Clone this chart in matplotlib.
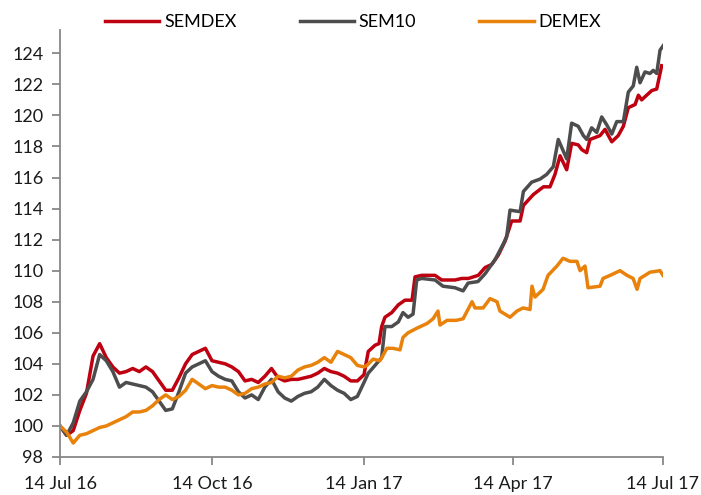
import matplotlib
matplotlib.use("Agg")
import matplotlib.pyplot as plt
import matplotlib.dates as mdates
import numpy as np
import pandas as pd

plt.rcParams['font.family'] = ['Lato', 'DejaVu Sans']

# ---- data (index = 100 on 14 Jul 16) ----
start = pd.Timestamp('2016-07-14')

# first half sampled every 4 days, second half at the turning points
grid_days = list(range(0, 188, 4))

semdex_days = grid_days + [186.6, 190.7, 193.1, 194.7, 196.7, 200.8, 204.8, 208.8, 213.1, 214.9,
                           218.9, 227, 231, 239.1, 243.2, 247.2, 253.2, 257.3, 261.3, 265.3,
                           269.4, 273.4, 278.5, 280.5, 286.5, 292.6, 296.6, 299.6, 302.7, 306.7,
                           309.7, 313.7, 315.8, 318.8, 320.8, 326.9, 329.9, 334, 337.9, 341,
                           344, 348.1, 350.1, 352.1, 355.1, 358.2, 361.2, 364.2]
semdex = [100.0, 99.4, 99.7, 101.0, 102.1, 104.5, 105.3, 104.4, 103.8, 103.4, 103.5, 103.7,
          103.5, 103.8, 103.5, 102.9, 102.3, 102.3, 103.1, 104.0, 104.6, 104.8, 105.0, 104.2,
          104.1, 104.0, 103.8, 103.5, 102.9, 103.0, 102.8, 103.2, 103.7, 103.1, 102.9, 103.0,
          103.0, 103.1, 103.2, 103.4, 103.7, 103.5, 103.4, 103.2, 102.9, 102.9, 103.3,
          104.8, 105.2, 105.3, 106.4, 107.0, 107.3, 107.8, 108.1, 108.1, 109.6,
          109.7, 109.7, 109.4, 109.4, 109.5, 109.5, 109.7, 110.2, 110.4, 111.0,
          111.9, 113.2, 113.2, 114.2, 114.9, 115.4, 115.4, 116.2, 117.4, 116.5,
          118.2, 118.1, 117.8, 117.6, 118.45, 118.7, 119.1, 118.3, 118.7, 119.3,
          120.5, 120.7, 121.3, 121.0, 121.3, 121.6, 121.7, 123.2]

sem10_days = grid_days + [186.6, 190.7, 194.7, 196.7, 200.8, 204.8, 207.6, 210.7, 213.7, 215.9,
                          218.9, 227, 231.8, 239.1, 244, 247, 253, 257.3, 263.3, 268.2,
                          270.4, 272.4, 278.5, 280.5, 285.5, 290.6, 294.6, 298.6, 301.6, 306.7,
                          309.7, 313.7, 316.8, 318.8, 321.8, 324.9, 327.9, 330.9, 334, 337,
                          341, 344, 347, 349.1, 351.1, 354.1, 357.1, 359.1, 361.2, 363.2, 365.2]
sem10 = [100.0, 99.4, 100.2, 101.6, 102.2, 103.0, 104.6, 104.2, 103.5, 102.5, 102.8, 102.7,
         102.6, 102.5, 102.2, 101.6, 101.0, 101.1, 102.2, 103.4, 103.8, 104.0, 104.2, 103.5,
         103.2, 103.0, 102.9, 102.2, 101.8, 102.0, 101.7, 102.5, 103.0, 102.2, 101.8, 101.6,
         101.9, 102.1, 102.2, 102.5, 103.0, 102.6, 102.3, 102.1, 101.7, 101.9, 102.8,
         103.4, 103.9, 104.4, 106.4, 106.4, 106.7, 107.3, 107.0, 107.2, 109.4,
         109.5, 109.4, 109.0, 108.9, 108.7, 109.2, 109.3, 109.8, 110.7, 111.7,
         112.2, 113.9, 113.8, 115.1, 115.7, 115.9, 116.2, 116.7, 118.45, 117.2,
         119.5, 119.3, 118.7, 118.45, 119.2, 118.9, 119.9, 119.4, 118.8, 119.6,
         119.6, 121.5, 121.9, 123.1, 122.1, 122.8, 122.7, 122.9, 122.7, 124.2, 124.5]

demex_days = grid_days + [185.8, 189.5, 193.7, 197.9, 201.6, 205.8, 207.6, 210.7, 216.1, 222.2,
                          225.8, 228.8, 230, 234.3, 239.7, 244, 249.4, 251.2, 256.1, 260.3,
                          264.5, 266.3, 272.4, 276.6, 280.3, 284.5, 285.7, 287.5, 292.4, 295.4,
                          300.8, 304.5, 308.7, 312.9, 314.8, 317.8, 319.6, 326.9, 328.7, 333,
                          339, 343.2, 346.9, 349.3, 351.1, 357.1, 363.2, 365]
demex = [100.0, 99.6, 98.9, 99.4, 99.5, 99.7, 99.9, 100.0, 100.2, 100.4, 100.6, 100.9,
         100.9, 101.0, 101.3, 101.7, 102.0, 101.7, 101.9, 102.3, 103.0, 102.7, 102.4, 102.6,
         102.5, 102.5, 102.3, 102.0, 102.1, 102.4, 102.5, 102.7, 102.8, 103.2, 103.1, 103.2,
         103.6, 103.8, 103.9, 104.1, 104.4, 104.1, 104.8, 104.6, 104.4, 103.9, 103.8,
         103.9, 104.3, 104.2, 105.0, 105.0, 104.9, 105.7, 106.0, 106.3, 106.6,
         106.9, 107.4, 106.5, 106.8, 106.8, 106.9, 108.0, 107.6, 107.6, 108.2,
         108.0, 107.4, 107.0, 107.4, 107.6, 107.5, 109.0, 108.3, 108.8, 109.7,
         110.3, 110.8, 110.6, 110.6, 110.0, 110.3, 108.9, 109.0, 109.5, 109.7,
         110.0, 109.7, 109.5, 108.8, 109.5, 109.9, 110.0, 109.7]

tick_dates = ['2016-07-14', '2016-10-14', '2017-01-14', '2017-04-14', '2017-07-14']
y_ticks = list(range(98, 126, 2))

series = [('SEMDEX', semdex_days, semdex, '#BE0010'),
          ('SEM10', sem10_days, sem10, '#4D4D4D'),
          ('DEMEX', demex_days, demex, '#E8820A')]

# ---- figure ----
fig = plt.figure(figsize=(7.01, 4.95), dpi=100)
ax = fig.add_axes([60 / 701, 38 / 495, 603 / 701, 427 / 495])

for name, d, v, col in series:
    dates = start + pd.to_timedelta(np.array(d), unit='D')
    ax.plot(dates, v, color=col, lw=2.5, label=name, solid_joinstyle='round')

ax.set_xlim(pd.Timestamp(tick_dates[0]), pd.Timestamp(tick_dates[-1]))
ax.set_ylim(98, 125.5)
ax.set_xticks(pd.to_datetime(tick_dates))
ax.xaxis.set_major_formatter(mdates.DateFormatter('%d %b %y'))
ax.set_yticks(y_ticks)

for s in ['top', 'right']:
    ax.spines[s].set_visible(False)
for s in ['left', 'bottom']:
    ax.spines[s].set_color('#888888')
    ax.spines[s].set_linewidth(1.3)

ax.tick_params(axis='both', direction='out', length=6, width=1.3, color='#888888',
               labelsize=13, labelcolor='#1a1a1a')
ax.tick_params(axis='x', pad=8)
ax.tick_params(axis='y', pad=6)

fig.legend(loc='center', bbox_to_anchor=(353 / 701, 1 - 22 / 495), ncol=3, frameon=False,
           fontsize=13, handlelength=3.0, handletextpad=0.28, columnspacing=3.5)

fig.savefig('out.png', dpi=100)
